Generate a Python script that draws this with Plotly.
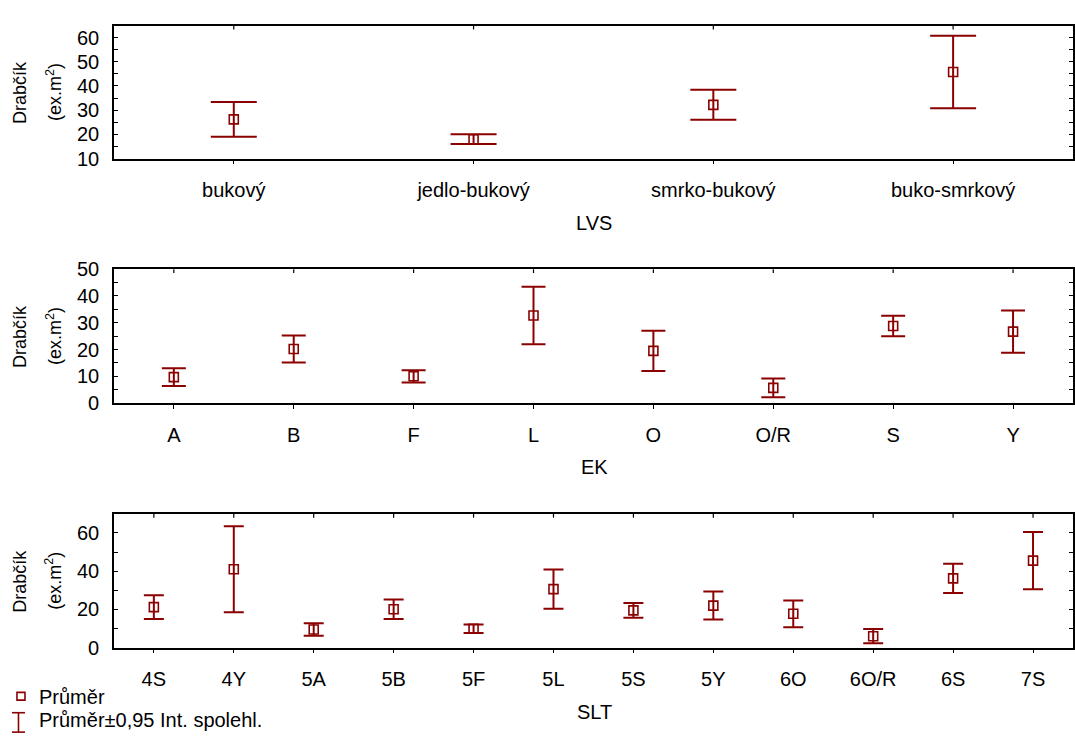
import plotly.graph_objects as go

# ---------------- data ----------------
lvs_cats = ["bukový", "jedlo-bukový", "smrko-bukový", "buko-smrkový"]
lvs_mean = [26.2, 18.0, 32.2, 45.8]
lvs_ci = [7.2, 2.0, 6.2, 15.0]

ek_cats = ["A", "B", "F", "L", "O", "O/R", "S", "Y"]
ek_mean = [9.7, 20.2, 10.0, 32.7, 19.5, 5.7, 28.8, 26.7]
ek_ci = [3.3, 5.0, 2.3, 10.7, 7.5, 3.5, 3.8, 7.9]

slt_cats = ["4S", "4Y", "5A", "5B", "5F", "5L", "5S", "5Y", "6O", "6O/R", "6S", "7S"]
slt_mean = [21.2, 41.0, 9.5, 20.1, 9.9, 30.6, 19.5, 22.0, 17.7, 6.0, 36.2, 45.5]
slt_ci = [6.2, 22.5, 3.3, 5.1, 2.2, 10.3, 3.8, 7.3, 7.0, 3.7, 7.6, 15.0]

axis_titles = ["LVS", "EK", "SLT"]
y_title_1 = "Drabčík"
y_title_2 = "(ex.m<sup>2</sup>)"
legend_labels = ["Průměr", "Průměr±0,95 Int. spolehl."]

# ---------------- styling ----------------
W, H = 1075, 747
RED = "#8B0000"
FONT = "Liberation Sans, Arial, sans-serif"
FS = 20

def px(x):
    return x / W

def py(y):
    return 1 - y / H

x_left, x_right = 114, 1074
panels = [
    dict(cats=lvs_cats, mean=lvs_mean, ci=lvs_ci, top=15, bot=152,
         yr=[10, 65], dtick=10, minor=5, cap=23),
    dict(cats=ek_cats, mean=ek_mean, ci=ek_ci, top=266, bot=404,
         yr=[0, 50], dtick=10, minor=5, cap=12),
    dict(cats=slt_cats, mean=slt_mean, ci=slt_ci, top=518, bot=656,
         yr=[0, 70], dtick=20, minor=10, cap=10),
]

fig = go.Figure()
shapes = []
annotations = []

for i, p in enumerate(panels):
    n = i + 1
    xa = "x" if n == 1 else f"x{n}"
    ya = "y" if n == 1 else f"y{n}"
    xkey = "xaxis" if n == 1 else f"xaxis{n}"
    ykey = "yaxis" if n == 1 else f"yaxis{n}"
    idx = list(range(len(p["cats"])))

    fig.add_trace(go.Scatter(
        x=idx, y=p["mean"], mode="markers", xaxis=xa, yaxis=ya,
        marker=dict(symbol="square-open", size=9, color=RED,
                    line=dict(width=1.6, color=RED)),
        error_y=dict(type="data", array=p["ci"], visible=True,
                     thickness=2, width=p["cap"], color=RED),
        showlegend=False, hoverinfo="skip",
    ))

    fig.layout[xkey] = dict(
        domain=[px(x_left), px(x_right)], anchor=ya,
        range=[-0.5, len(idx) - 0.5], tickmode="array",
        tickvals=idx, ticktext=p["cats"],
        showline=True, linecolor="black", linewidth=1.5, mirror=True,
        ticks="outside", ticklen=4, tickwidth=1.2, tickcolor="black",
        showgrid=False, zeroline=False,
        tickfont=dict(family=FONT, size=FS, color="black"),
        ticklabelstandoff=9,
    )
    fig.layout[ykey] = dict(
        domain=[py(p["bot"]), py(p["top"])], anchor=xa,
        range=p["yr"], tickmode="linear", tick0=p["yr"][0], dtick=p["dtick"],
        showline=True, linecolor="black", linewidth=1.5, mirror="ticks",
        ticks="inside", ticklen=4, tickwidth=1.2, tickcolor="black",
        minor=dict(ticks="inside", dtick=p["minor"], tick0=p["yr"][0],
                   ticklen=4, tickwidth=1.2, tickcolor="black"),
        showgrid=False, zeroline=False,
        tickfont=dict(family=FONT, size=FS, color="black"),
        ticklabelstandoff=9,
    )

    # tick marks on the top frame (inside)
    for k in idx:
        shapes.append(dict(type="line", xref=xa, yref=f"{ya} domain",
                           x0=k, x1=k, y0=1, y1=1 - 4 / (p["bot"] - p["top"]),
                           line=dict(color="black", width=1.2)))

    # x axis title
    annotations.append(dict(text=axis_titles[i], xref="paper", yref="paper",
                            x=px(595), y=py(p["bot"] + 66), showarrow=False,
                            xanchor="center", yanchor="middle",
                            font=dict(family=FONT, size=FS, color="black")))
    # y axis title (two rotated lines)
    yc = py((p["top"] + p["bot"]) / 2)
    annotations.append(dict(text=y_title_1, xref="paper", yref="paper",
                            x=px(20), y=yc, showarrow=False, textangle=-90,
                            xanchor="center", yanchor="middle",
                            font=dict(family=FONT, size=18, color="black")))
    annotations.append(dict(text=y_title_2, xref="paper", yref="paper",
                            x=px(54), y=yc, showarrow=False, textangle=-90,
                            xanchor="center", yanchor="middle",
                            font=dict(family=FONT, size=18, color="black")))

# ---------------- legend (drawn manually) ----------------
shapes.append(dict(type="rect", xref="paper", yref="paper",
                   x0=px(17), x1=px(25), y0=py(710), y1=py(702),
                   line=dict(color=RED, width=1.6), fillcolor="rgba(0,0,0,0)"))
shapes.append(dict(type="line", xref="paper", yref="paper",
                   x0=px(18.5), x1=px(18.5), y0=py(723), y1=py(743),
                   line=dict(color=RED, width=1.6)))
shapes.append(dict(type="line", xref="paper", yref="paper",
                   x0=px(12), x1=px(25), y0=py(723), y1=py(723),
                   line=dict(color=RED, width=1.6)))
shapes.append(dict(type="line", xref="paper", yref="paper",
                   x0=px(12), x1=px(25), y0=py(743), y1=py(743),
                   line=dict(color=RED, width=1.6)))
for lbl, yy in zip(legend_labels, [707, 731]):
    annotations.append(dict(text=lbl, xref="paper", yref="paper",
                            x=px(37), y=py(yy), showarrow=False,
                            xanchor="left", yanchor="middle",
                            font=dict(family=FONT, size=FS, color="black")))

fig.update_layout(
    width=W, height=H, autosize=False,
    margin=dict(l=0, r=0, t=0, b=0),
    paper_bgcolor="white", plot_bgcolor="white",
    showlegend=False, shapes=shapes, annotations=annotations,
    font=dict(family=FONT, size=FS, color="black"),
)

fig.write_html(
    "out.html",
    config={"displayModeBar": False},
    post_script="document.body.style.margin='0';document.body.style.padding='0';"
                "document.documentElement.style.overflow='hidden';",
)
